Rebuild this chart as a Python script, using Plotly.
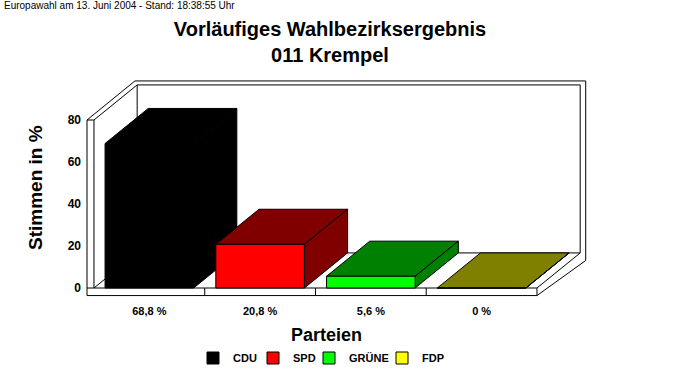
import plotly.graph_objects as go

# ---- data ----
parties = ["CDU", "SPD", "GRÜNE", "FDP"]
values = [68.8, 20.8, 5.6, 0.0]
value_labels = ["68,8 %", "20,8 %", "5,6 %", "0 %"]
front_colors = ["#000000", "#FF0000", "#00FF00", "#FFFF00"]
face_colors = ["#000000", "#800000", "#008000", "#808000"]
y_ticks = [0, 20, 40, 60, 80]

# ---- geometry (axis units) ----
W, H = 683, 380
L, R, T, B = 86, 83, 78, 77
X_RANGE = [-0.572, 4.069]
Y_RANGE = [-7.14, 100]
BAR_W = 0.8
DX, DY = 0.39, 16.7          # depth offset of the 3D effect
WALL = 0.063                 # left wall thickness
SLAB = 3.6                   # floor slab thickness
YMAX = 80
X0, X1 = -0.5, len(parties) - 0.5
LEGEND_X = [193, 253, 309, 382]   # left edge of each legend entry (px)

fig = go.Figure()
legend_names = ["legend"] + [f"legend{k}" for k in range(2, len(parties) + 1)]
for i, p in enumerate(parties):
    fig.add_trace(go.Bar(
        x=[i], y=[values[i]], name=p, width=BAR_W, legend=legend_names[i],
        marker=dict(color=front_colors[i], line=dict(color="#000000", width=1)),
        hoverinfo="skip",
    ))

shapes = []
def path(pts, fill=None, width=1):
    d = "M " + " L ".join(f"{x},{y}" for x, y in pts)
    if fill is not None:
        d += " Z"
    s = dict(type="path", path=d, xref="x", yref="y", layer="below",
             line=dict(color="#000000", width=width))
    if fill is not None:
        s["fillcolor"] = fill
    shapes.append(s)

# back wall (inner and outer edges)
path([(X0 + DX, DY), (X1 + DX, DY), (X1 + DX, YMAX + DY), (X0 + DX, YMAX + DY), (X0 + DX, DY)])
path([(X0 + DX - 0.02, YMAX + DY + 1.9), (X1 + DX + 0.05, YMAX + DY + 1.9),
      (X1 + DX + 0.05, DY - SLAB)])
# left wall
path([(X0 - WALL, -SLAB), (X0 - WALL, YMAX), (X0, YMAX), (X0, 0)])
path([(X0 - WALL, YMAX), (X0 + DX - 0.02, YMAX + DY + 1.9)])
path([(X0, YMAX), (X0 + DX, YMAX + DY)])
# floor
path([(X0, 0), (X0 + DX, DY)])
path([(X0 - WALL, 0), (X1, 0), (X1, -SLAB), (X0 - WALL, -SLAB)])
for k in range(1, len(parties)):
    path([(X0 + k, 0), (X0 + k, -SLAB)])
path([(X1, 0), (X1 + DX, DY)])
path([(X1, -SLAB), (X1 + DX + 0.05, DY - SLAB)])

# 3D top and side faces of the bars
for i, v in enumerate(values):
    xl, xr = i - BAR_W / 2, i + BAR_W / 2
    path([(xl, v), (xr, v), (xr + DX, v + DY), (xl + DX, v + DY)], fill=face_colors[i])
    path([(xr, 0), (xr, v), (xr + DX, v + DY), (xr + DX, DY)], fill=face_colors[i])

pw, ph = W - L - R, H - T - B
def pp(px, py):
    return (px - L) / pw, (H - B - py) / ph

bold = dict(family="Liberation Sans, Arial, sans-serif", color="#000000", weight="bold")
ann = []
ax_, ay_ = pp(2, 6)
ann.append(dict(text="Europawahl am 13. Juni 2004 - Stand: 18:38:55 Uhr", x=ax_, y=ay_,
                xref="paper", yref="paper", xanchor="left", yanchor="middle", showarrow=False,
                font=dict(family="Liberation Sans, Arial, sans-serif", size=10, color="#000000")))
ax_, ay_ = pp(35, 188)
ann.append(dict(text="Stimmen in %", x=ax_, y=ay_, xref="paper", yref="paper", textangle=-90,
                xanchor="center", yanchor="middle", showarrow=False, font=dict(size=19, **bold)))
ax_, ay_ = pp(326, 335)
ann.append(dict(text="Parteien", x=ax_, y=ay_, xref="paper", yref="paper",
                xanchor="center", yanchor="middle", showarrow=False, font=dict(size=18, **bold)))

legends = {}
for i, name in enumerate(legend_names):
    legends[name] = dict(orientation="h", x=LEGEND_X[i] / W, xanchor="left", xref="container",
                         y=1 - 358 / H, yanchor="middle", yref="container",
                         font=dict(size=11, **bold), itemwidth=30,
                         bgcolor="rgba(0,0,0,0)")

fig.update_layout(
    width=W, height=H,
    margin=dict(l=L, r=R, t=T, b=B, pad=0),
    paper_bgcolor="#FFFFFF", plot_bgcolor="#FFFFFF",
    barmode="overlay",
    shapes=shapes, annotations=ann,
    title=dict(text="Vorläufiges Wahlbezirksergebnis<br>011 Krempel",
               x=330 / W, xanchor="center", xref="container",
               y=1 - 36 / H, yanchor="top", yref="container",
               font=dict(size=20, **bold)),
    showlegend=True,
    xaxis=dict(range=X_RANGE, tickvals=list(range(len(parties))), ticktext=value_labels,
               showgrid=False, zeroline=False, showline=False, ticks="",
               tickfont=dict(size=11, **bold), fixedrange=True),
    yaxis=dict(range=Y_RANGE, tickvals=y_ticks, showgrid=False, zeroline=False,
               showline=False, ticks="", ticklabelstandoff=4,
               tickfont=dict(size=12, **bold), fixedrange=True),
    **legends,
)

fig.write_html("out.html", config={"displayModeBar": False},
               post_script="document.body.style.margin='0';")
